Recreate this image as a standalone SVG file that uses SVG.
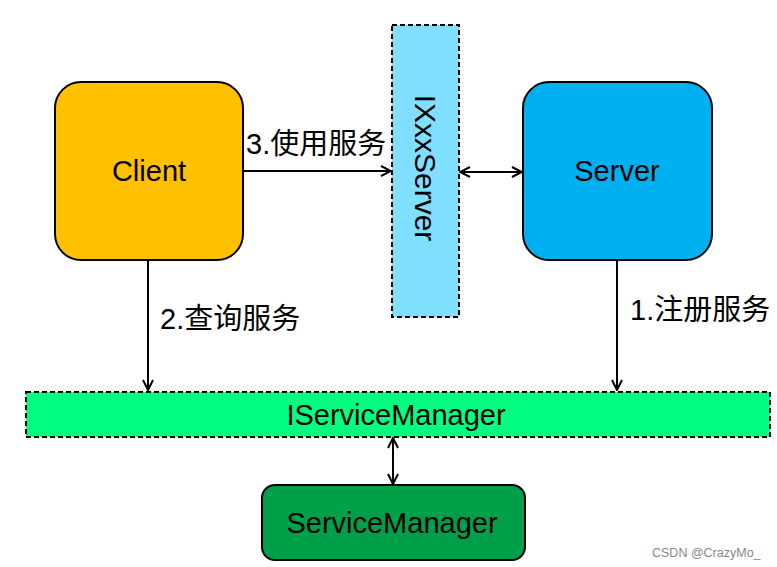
<svg xmlns="http://www.w3.org/2000/svg" width="777" height="567" viewBox="0 0 777 567">
<style>
.t{font-family:"Liberation Sans","Noto Sans CJK SC",Arial,sans-serif;fill:#000}
.box{stroke:#000;stroke-width:2}
.dash{stroke:#000;stroke-width:2;stroke-dasharray:5 3}
.c{fill:none;stroke:#000;stroke-width:2}
</style>
<defs>
<marker id="a" viewBox="0 0 12 12" refX="11" refY="6" markerWidth="12" markerHeight="12" markerUnits="userSpaceOnUse" orient="auto-start-reverse">
<path d="M1,1 L11,6 L1,11" fill="none" stroke="#000" stroke-width="2"/>
</marker>
</defs>
<rect width="777" height="567" fill="#fff"/>
<g id="connectors">
<line class="c" x1="243" y1="171" x2="391" y2="171" marker-end="url(#a)"/>
<line class="c" x1="460" y1="172" x2="522" y2="172" marker-start="url(#a)" marker-end="url(#a)"/>
<line class="c" x1="148" y1="261" x2="148" y2="390" marker-end="url(#a)"/>
<line class="c" x1="617" y1="261" x2="617" y2="390" marker-end="url(#a)"/>
<line class="c" x1="393" y1="438" x2="393" y2="484" marker-start="url(#a)" marker-end="url(#a)"/>
<text class="t" x="246" y="154" font-size="29">3.使用服务</text>
<text class="t" x="160" y="329" font-size="29">2.查询服务</text>
<text class="t" x="630" y="320" font-size="29">1.注册服务</text>
</g>
<g id="client">
<rect class="box" x="55" y="82" width="188" height="178" rx="26" fill="#FFC000"/>
<text class="t" x="149" y="181" font-size="29" text-anchor="middle">Client</text>
</g>
<g id="server">
<rect class="box" x="523" y="82" width="189" height="178" rx="26" fill="#00B0F0"/>
<text class="t" x="617" y="181" font-size="29" text-anchor="middle">Server</text>
</g>
<g id="ixxxserver">
<rect class="dash" x="392" y="25" width="67" height="292" fill="#80DFFF"/>
<text class="t" x="0" y="0" font-size="30" text-anchor="middle" transform="translate(415,168) rotate(90)">IXxxServer</text>
</g>
<g id="iservicemanager">
<rect class="dash" x="26" y="392" width="744" height="45" fill="#00FF80"/>
<text class="t" x="396" y="425" font-size="29" text-anchor="middle">IServiceManager</text>
</g>
<g id="servicemanager">
<rect class="box" x="262" y="485" width="263" height="75" rx="13" fill="#00A04A"/>
<text class="t" x="392" y="533" font-size="29" text-anchor="middle">ServiceManager</text>
</g>
<text x="652" y="557" font-family="'Liberation Sans',Arial,sans-serif" font-size="12.5" fill="#888">CSDN @CrazyMo_</text>
</svg>
